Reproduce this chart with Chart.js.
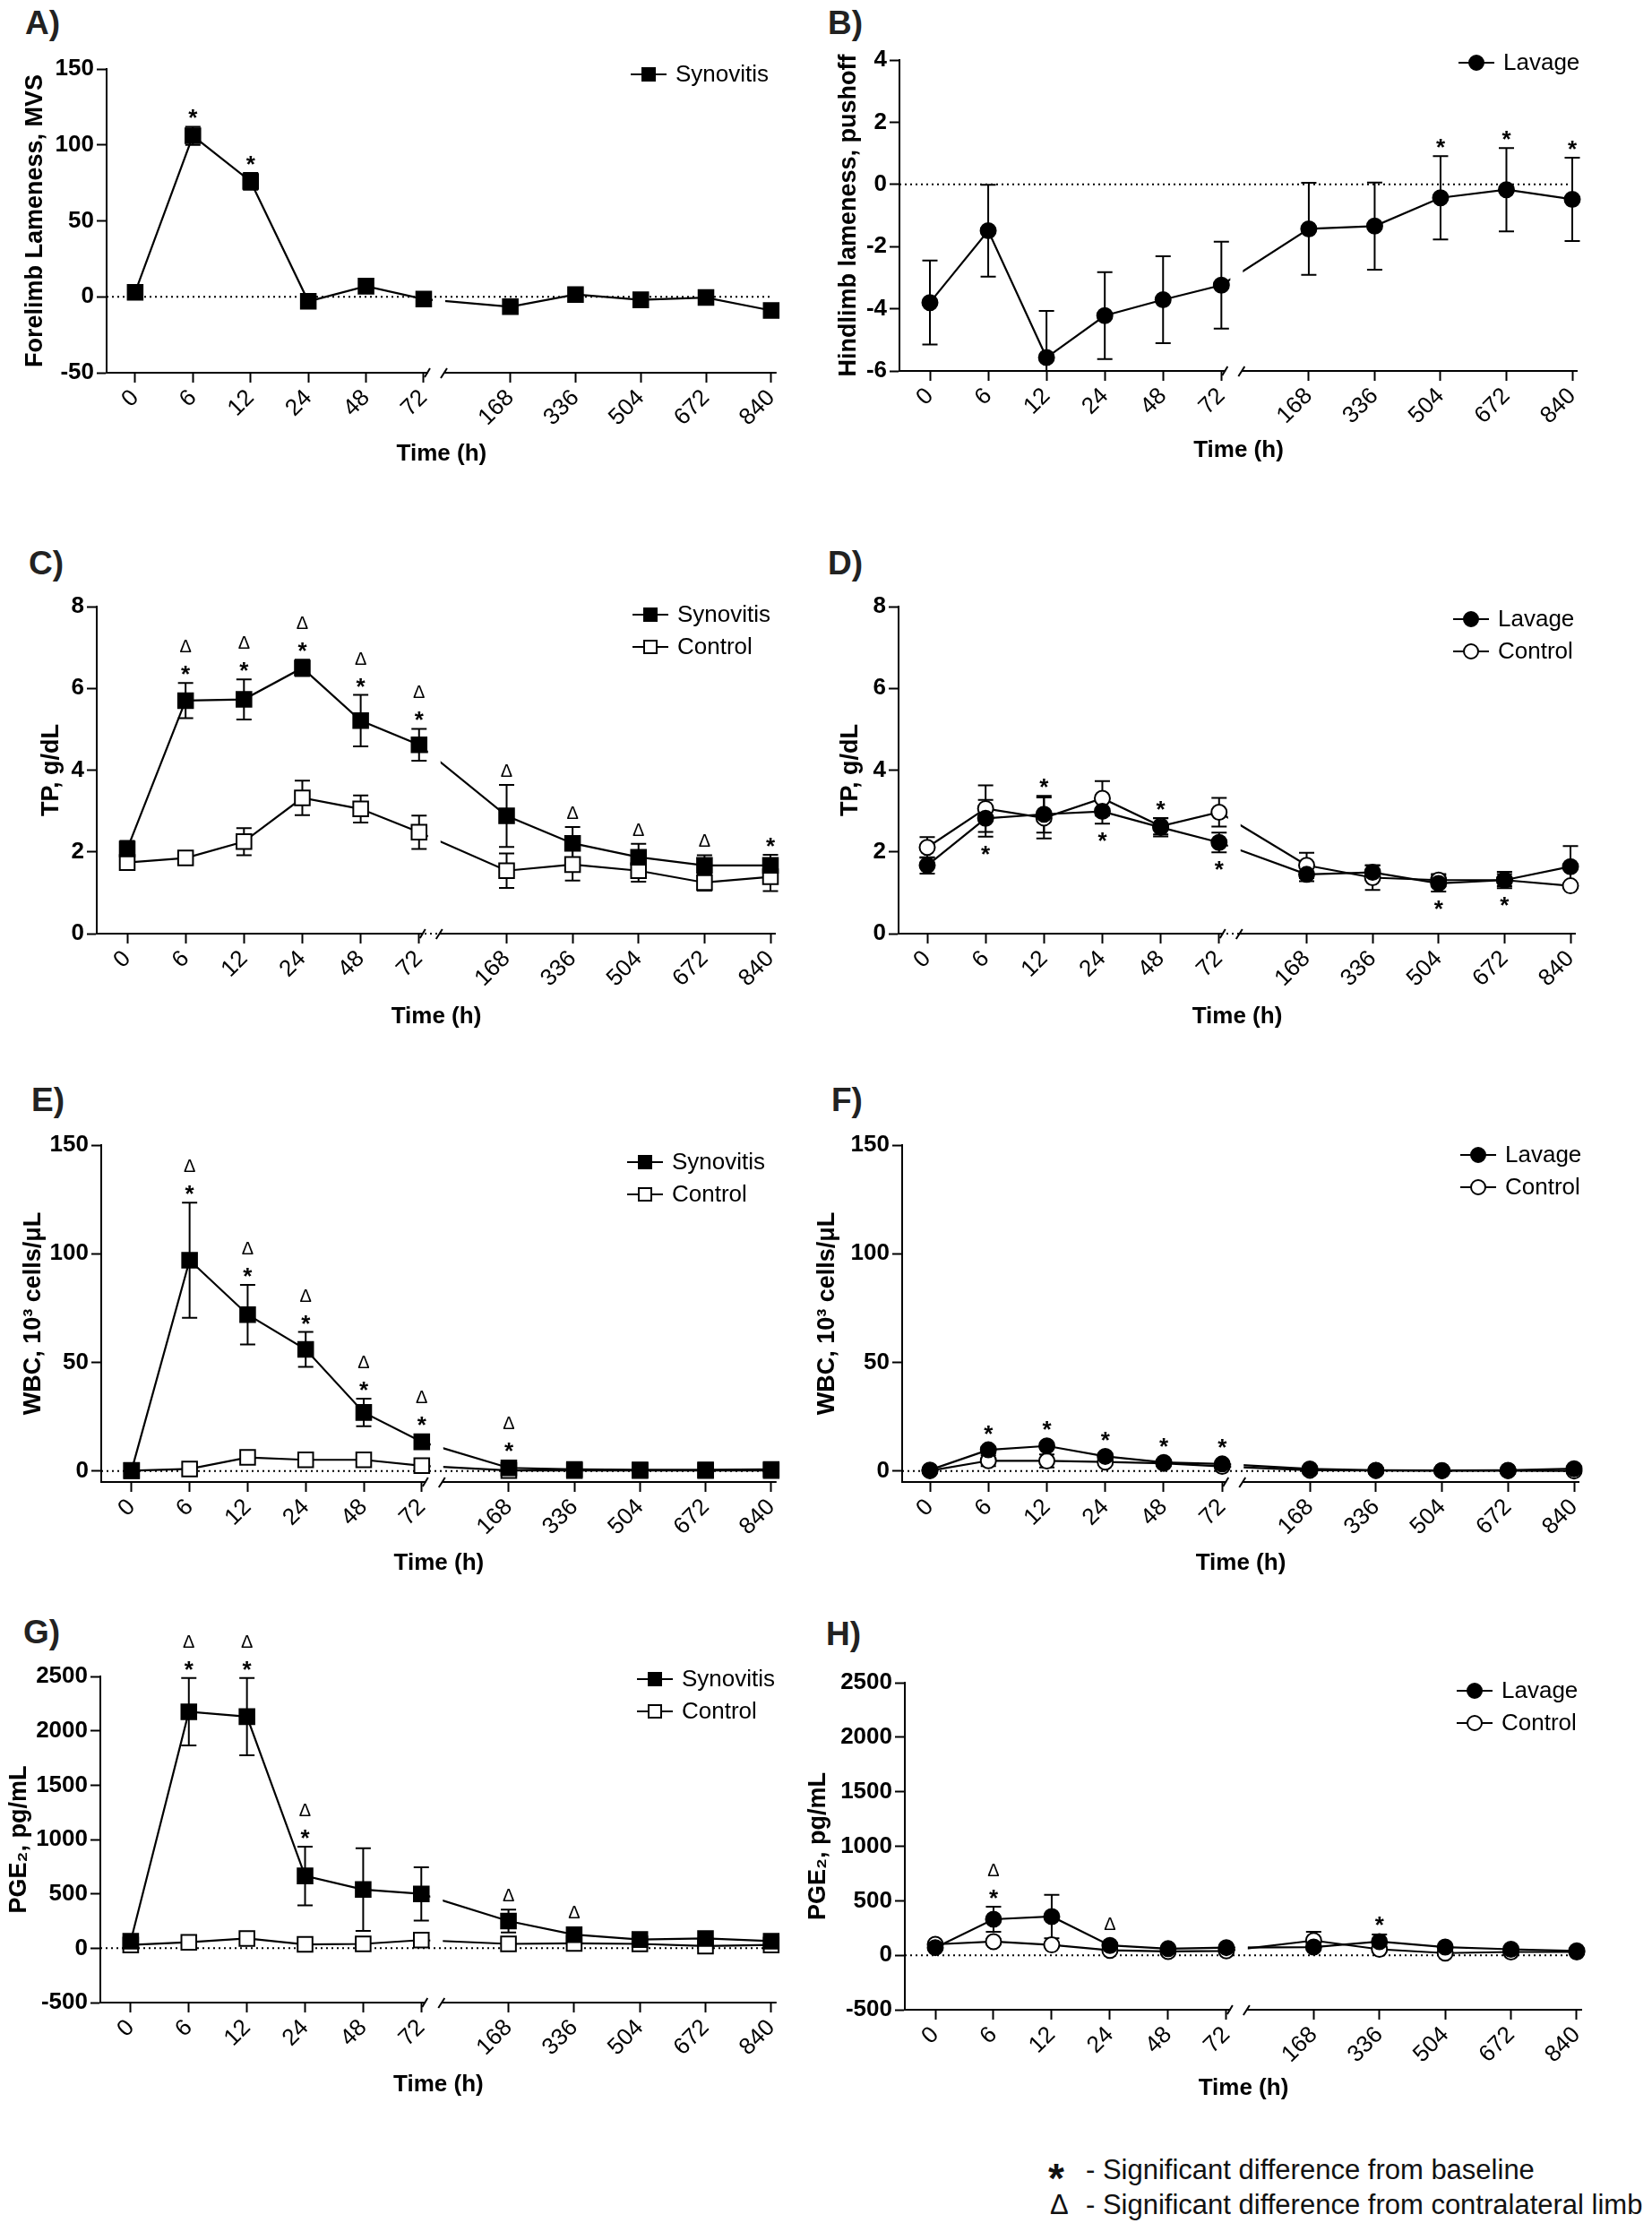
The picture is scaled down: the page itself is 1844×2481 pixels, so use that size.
<!DOCTYPE html>
<html>
<head>
<meta charset="utf-8">
<script src="https://cdn.jsdelivr.net/npm/chart.js@4.4.1/dist/chart.umd.min.js"></script>
<style>
  body { margin: 0; background: #fff; width: 1844px; height: 2481px; position: relative; overflow: hidden;
         font-family: "Liberation Sans", Arial, Helvetica, sans-serif; }
  canvas { position: absolute; }
  .letter { position: absolute; font-weight: bold; font-size: 37px; color: #222; line-height: 1; }
  .note { position: absolute; font-size: 31px; color: #111; line-height: 1; white-space: nowrap; }
</style>
</head>
<body>
<div class="letter" style="left:28px;top:7px">A)</div>
<div class="letter" style="left:924px;top:7px">B)</div>
<div class="letter" style="left:32px;top:610px">C)</div>
<div class="letter" style="left:924px;top:610px">D)</div>
<div class="letter" style="left:35px;top:1209px">E)</div>
<div class="letter" style="left:928px;top:1209px">F)</div>
<div class="letter" style="left:26px;top:1803px">G)</div>
<div class="letter" style="left:922px;top:1805px">H)</div>

<div class="note" style="left:1170px;top:2408px;font-weight:bold;font-size:46px">*</div>
<div class="note" style="left:1212px;top:2406px">- Significant difference from baseline</div>
<div class="note" style="left:1172px;top:2445px">Δ</div>
<div class="note" style="left:1212px;top:2445px">- Significant difference from contralateral limb</div>

<script>
const TIMES = ["0", "6", "12", "24", "48", "72", "168", "336", "504", "672", "840"];
// where each time sits on the broken axis (first-segment step = 1)
const XPOS = [0, 1, 2, 3, 4, 5, 6.5, 7.63, 8.76, 9.89, 11.02];
const BREAK_IDX = 5;

// A) forelimb lameness
const synLame = [3, 106, 76, -3, 7, -1.5, -6.5, 1.5, -2, -0.5, -9];
const synLameSem = [2, 6, 5.5, 2, 2, 2, 2.5, 2.5, 2.5, 2, 2.5];
const sigA = ["", "*", "*", "", "", "", "", "", "", "", ""];

// B) hindlimb lameness
const lavLame = [-3.8, -1.49, -5.57, -4.22, -3.71, -3.24, -1.43, -1.34, -0.43, -0.17, -0.48];
const lavLameSem = [1.35, 1.48, 1.5, 1.4, 1.4, 1.4, 1.48, 1.4, 1.34, 1.34, 1.34];
const sigB = ["", "", "", "", "", "", "", "", "*", "*", "*"];

// C) TP synovitis
const synTP = [2.07, 5.7, 5.73, 6.5, 5.21, 4.62, 2.88, 2.21, 1.87, 1.67, 1.67];
const synTPSem = [0.2, 0.43, 0.49, 0.2, 0.63, 0.39, 0.76, 0.4, 0.33, 0.25, 0.26];
const ctlTPc = [1.74, 1.85, 2.25, 3.32, 3.05, 2.48, 1.54, 1.69, 1.54, 1.25, 1.39];
const ctlTPcSem = [0.12, 0.1, 0.33, 0.42, 0.33, 0.41, 0.42, 0.39, 0.27, 0.2, 0.35];
const sigC = ["", "*Δ", "*Δ", "*Δ", "*Δ", "*Δ", "Δ", "Δ", "Δ", "Δ", "*"];

// D) TP lavage
const lavTP = [1.67, 2.82, 2.92, 2.99, 2.6, 2.23, 1.45, 1.5, 1.23, 1.31, 1.64];
const lavTPSem = [0.2, 0.45, 0.45, 0.3, 0.22, 0.24, 0.17, 0.17, 0.2, 0.2, 0.5];
const ctlTPd = [2.11, 3.06, 2.83, 3.31, 2.63, 2.97, 1.67, 1.37, 1.31, 1.31, 1.17];
const ctlTPdSem = [0.25, 0.57, 0.5, 0.42, 0.2, 0.35, 0.31, 0.3, 0.15, 0.15, 0.05];
const sigD = ["", "", "*", "", "*", "", "", "", "", "", ""];
const sigDbelow = ["", "*", "", "*", "", "*", "", "", "*", "*", ""];

// E) WBC synovitis
const synWBC = [0.3, 97, 72, 56, 27, 13.5, 1.5, 0.8, 0.6, 0.6, 0.8];
const synWBCSem = [0.3, 26.5, 13.7, 8, 6.3, 2, 0.8, 0.3, 0.2, 0.2, 0.2];
const ctlWBCe = [0.2, 1, 6.3, 5.2, 5.2, 2.5, 0.3, 0.3, 0.3, 0.3, 0.3];
const ctlWBCeSem = [0.1, 0.5, 1.2, 1, 1, 0.8, 0.2, 0.1, 0.1, 0.1, 0.1];
const sigE = ["", "*Δ", "*Δ", "*Δ", "*Δ", "*Δ", "*Δ", "", "", "", ""];

// F) WBC lavage
const lavWBC = [0.5, 9.8, 11.6, 6.8, 4, 3.3, 1, 0.4, 0.3, 0.4, 1.1];
const lavWBCSem = [0.3, 1.5, 1.5, 1.5, 1, 1, 0.3, 0.2, 0.2, 0.2, 0.3];
const ctlWBCf = [0.2, 4.8, 4.7, 4.2, 3.6, 2.2, 0.4, 0.3, 0.2, 0.2, 0.1];
const ctlWBCfSem = [0.1, 2.5, 3, 1.5, 0.8, 0.5, 0.2, 0.1, 0.1, 0.1, 0.1];
const sigF = ["", "*", "*", "*", "*", "*", "", "", "", "", ""];

// G) PGE2 synovitis
const synPGE = [65, 2175, 2130, 665, 540, 500, 250, 125, 80, 90, 65];
const synPGESem = [20, 310, 355, 270, 380, 245, 105, 40, 20, 30, 20];
const ctlPGEg = [30, 55, 90, 35, 40, 75, 40, 45, 40, 20, 30];
const ctlPGEgSem = [15, 20, 25, 15, 20, 25, 15, 15, 15, 10, 10];
const sigG = ["", "*Δ", "*Δ", "*Δ", "", "", "Δ", "Δ", "", "", ""];

// H) PGE2 lavage
const lavPGE = [70, 330, 355, 90, 60, 70, 75, 125, 75, 55, 40];
const lavPGESem = [15, 115, 200, 20, 15, 15, 15, 65, 15, 15, 10];
const ctlPGEh = [100, 125, 95, 45, 35, 40, 135, 55, 20, 30, 30];
const ctlPGEhSem = [15, 25, 20, 15, 10, 10, 80, 20, 10, 10, 10];
const sigH = ["", "*Δ", "", "Δ", "", "", "", "*", "", "", ""];

const FONT = '"Liberation Sans", Arial, Helvetica, sans-serif';
Chart.defaults.font.family = FONT;
Chart.defaults.color = "#000";

const ROWS = [[0, 560], [590, 575], [1180, 590], [1780, 575]];
const COLS = [[0, 885], [885, 959]];

const syn = (vals, sem) => ({ label: "Synovitis", vals, sem, style: "rect", filled: true });
const lav = (vals, sem) => ({ label: "Lavage", vals, sem, style: "circle", filled: true });
const ctl = (vals, sem, style) => ({ label: "Control", vals, sem, style, filled: false });

const PANELS = [
  { col: 0, row: 0, left: 119, top: 77, bottom: 416, x0: 151, x840: 864, timeY: 507, titleX: 40, leg: [704, 83],
    ymin: -50, ymax: 150, step: 50, title: "Forelimb Lameness, MVS",
    series: [syn(synLame, synLameSem)], above: sigA },
  { col: 1, row: 0, left: 1004, top: 67, bottom: 414, x0: 1038, x840: 1755, timeY: 503, titleX: 948, leg: [1628, 70],
    ymin: -6, ymax: 4, step: 2, title: "Hindlimb lameness, pushoff",
    series: [lav(lavLame, lavLameSem)], above: sigB },
  { col: 0, row: 1, left: 108, top: 677, bottom: 1042, x0: 142, x840: 860, timeY: 1135, titleX: 58, leg: [706, 686],
    ymin: 0, ymax: 8, step: 2, title: "TP, g/dL",
    series: [syn(synTP, synTPSem), ctl(ctlTPc, ctlTPcSem, "rect")], above: sigC },
  { col: 1, row: 1, left: 1003, top: 677, bottom: 1042, x0: 1035, x840: 1753, timeY: 1135, titleX: 950, leg: [1622, 691],
    ymin: 0, ymax: 8, step: 2, title: "TP, g/dL",
    series: [lav(lavTP, lavTPSem), ctl(ctlTPd, ctlTPdSem, "circle")], above: sigD, below: sigDbelow },
  { col: 0, row: 2, left: 113, top: 1278, bottom: 1654, x0: 147, x840: 864, timeY: 1745, titleX: 38, leg: [700, 1297],
    ymin: -5, ymax: 150, step: 50, fixedTicks: [0, 50, 100, 150], title: "WBC, 10³ cells/μL",
    series: [syn(synWBC, synWBCSem), ctl(ctlWBCe, ctlWBCeSem, "rect")], above: sigE },
  { col: 1, row: 2, left: 1007, top: 1278, bottom: 1654, x0: 1038, x840: 1757, timeY: 1745, titleX: 924, leg: [1630, 1289],
    ymin: -5, ymax: 150, step: 50, fixedTicks: [0, 50, 100, 150], title: "WBC, 10³ cells/μL",
    series: [lav(lavWBC, lavWBCSem), ctl(ctlWBCf, ctlWBCfSem, "circle")], above: sigF },
  { col: 0, row: 3, left: 112, top: 1871, bottom: 2235, x0: 146, x840: 863, timeY: 2327, titleX: 22, leg: [711, 1874],
    ymin: -500, ymax: 2500, step: 500, title: "PGE₂, pg/mL",
    series: [syn(synPGE, synPGESem), ctl(ctlPGEg, ctlPGEgSem, "rect")], above: sigG },
  { col: 1, row: 3, left: 1010, top: 1878, bottom: 2243, x0: 1044, x840: 1760, timeY: 2331, titleX: 914, leg: [1626, 1887],
    ymin: -500, ymax: 2500, step: 500, title: "PGE₂, pg/mL",
    series: [lav(lavPGE, lavPGESem), ctl(ctlPGEh, ctlPGEhSem, "circle")], above: sigH },
];

const R_RECT = 11.7, R_CIRC = 8.5;

function drawMarker(ctx, style, filled, x, y, size) {
  ctx.beginPath();
  if (style === "rect") ctx.rect(x - size, y - size, 2 * size, 2 * size);
  else ctx.arc(x, y, size, 0, Math.PI * 2);
  ctx.fillStyle = filled ? "#000" : "#fff";
  ctx.fill();
  ctx.lineWidth = 2;
  ctx.strokeStyle = "#000";
  ctx.stroke();
}

function drawStar(ctx, x, cy) {
  ctx.font = "bold 26px " + FONT;
  ctx.textBaseline = "alphabetic";
  ctx.fillText("*", x, cy + 15);
}

function drawDelta(ctx, x, cy) {
  ctx.font = "20px " + FONT;
  ctx.textBaseline = "alphabetic";
  ctx.fillText("Δ", x, cy + 7);
}

const decor = {
  id: "decor",
  beforeDatasetsDraw(chart, args, P) {
    const { ctx, chartArea: a } = chart;
    const xs = chart.scales.x, ys = chart.scales.y;
    // dotted zero line
    ctx.save();
    ctx.strokeStyle = "#000";
    ctx.lineWidth = 2;
    ctx.setLineDash([2, 4]);
    const y0 = ys.getPixelForValue(0);
    ctx.beginPath();
    ctx.moveTo(a.left, y0);
    ctx.lineTo(xs.getPixelForValue(XPOS[XPOS.length - 1]), y0);
    ctx.stroke();
    ctx.restore();

    // error bars, behind the markers
    ctx.save();
    ctx.beginPath();
    ctx.rect(a.left, a.top - 2, a.right - a.left + 20, a.bottom - a.top + 2);
    ctx.clip();
    ctx.strokeStyle = "#000";
    ctx.lineWidth = 2;
    chart.data.datasets.forEach((ds, di) => {
      const meta = chart.getDatasetMeta(di);
      ds.sem.forEach((e, j) => {
        const x = meta.data[j].x, v = ds.data[j].y;
        const t = ys.getPixelForValue(v + e), b = ys.getPixelForValue(v - e);
        ctx.beginPath();
        ctx.moveTo(x, t); ctx.lineTo(x, b);
        ctx.moveTo(x - 8.5, t); ctx.lineTo(x + 8.5, t);
        ctx.moveTo(x - 8.5, b); ctx.lineTo(x + 8.5, b);
        ctx.stroke();
      });
    });
    ctx.restore();
  },
  beforeDatasetDraw(chart) {
    // hide the connecting line inside the axis break
    const { ctx } = chart;
    const xb = chart.scales.x.getPixelForValue(XPOS[BREAK_IDX]);
    ctx.save();
    ctx.beginPath();
    ctx.rect(0, 0, xb + 10, chart.height);
    ctx.rect(xb + 24, 0, chart.width, chart.height);
    ctx.clip();
  },
  afterDatasetDraw(chart) {
    chart.ctx.restore();
  },
  afterDatasetsDraw(chart, args, P) {
    const { ctx } = chart;
    const ys = chart.scales.y;
    const ref = chart.data.datasets[0];
    const meta = chart.getDatasetMeta(0);
    const R = ref.pointStyle === "rect" ? 9 : R_CIRC;
    ctx.save();
    ctx.fillStyle = "#000";
    ctx.textAlign = "center";
    (P.above || []).forEach((s, j) => {
      if (!s) return;
      const x = meta.data[j].x, v = ref.data[j].y, e = ref.sem[j];
      const anchor = Math.min(ys.getPixelForValue(v + e), ys.getPixelForValue(v) - R);
      let y = anchor - 16;
      if (s.includes("*")) { drawStar(ctx, x, y); y -= 25; }
      if (s.includes("Δ")) drawDelta(ctx, x, y);
    });
    (P.below || []).forEach((s, j) => {
      if (!s) return;
      const x = meta.data[j].x, v = ref.data[j].y, e = ref.sem[j];
      const anchor = Math.max(ys.getPixelForValue(v - e), ys.getPixelForValue(v) + R);
      drawStar(ctx, x, anchor + 13);
    });
    ctx.restore();
  },
  afterDraw(chart, args, P) {
    const { ctx, chartArea: a } = chart;
    const xs = chart.scales.x;
    const xb = xs.getPixelForValue(XPOS[BREAK_IDX]);
    const y = a.bottom;
    ctx.save();
    ctx.strokeStyle = "#000";
    ctx.lineWidth = 2;
    ctx.beginPath();
    ctx.moveTo(a.left - 1, y); ctx.lineTo(xb + 5, y);
    ctx.moveTo(xb + 23, y); ctx.lineTo(a.right, y);
    ctx.moveTo(xb + 1, y + 5); ctx.lineTo(xb + 7, y - 5);
    ctx.moveTo(xb + 19, y + 6); ctx.lineTo(xb + 26, y - 5);
    ctx.stroke();

    // legend
    P.series.forEach((s, k) => {
      const lx = P.legX, ly = P.legY + k * 36;
      ctx.beginPath();
      ctx.moveTo(lx, ly); ctx.lineTo(lx + 40, ly);
      ctx.lineWidth = 2;
      ctx.stroke();
      drawMarker(ctx, s.style, s.filled, lx + 20, ly, s.style === "rect" ? 7 : 8);
      ctx.fillStyle = "#000";
      ctx.font = "26px " + FONT;
      ctx.textAlign = "left";
      ctx.textBaseline = "middle";
      ctx.fillText(s.label, lx + 50, ly + 1);
    });
    ctx.restore();
  }
};

PANELS.forEach(P => {
  const [rowTop, rowH] = ROWS[P.row];
  const [colLeft, colW] = COLS[P.col];
  const cv = document.createElement("canvas");
  cv.width = colW; cv.height = rowH;
  cv.style.left = colLeft + "px"; cv.style.top = rowTop + "px";
  cv.style.width = colW + "px"; cv.style.height = rowH + "px";
  document.body.appendChild(cv);

  const unit = (P.x840 - P.x0) / XPOS[XPOS.length - 1];
  const xmin = (P.left - P.x0) / unit;
  const xmax = XPOS[XPOS.length - 1] + 6 / unit;

  const datasets = P.series.map(s => ({
    label: s.label,
    data: XPOS.map((x, i) => ({ x, y: s.vals[i] })),
    sem: s.sem,
    showLine: true,
    borderColor: "#000",
    borderWidth: 2.2,
    tension: 0,
    pointStyle: s.style,
    pointRadius: s.style === "rect" ? R_RECT : R_CIRC,
    pointBackgroundColor: s.filled ? "#000" : "#fff",
    pointBorderColor: "#000",
    pointBorderWidth: 2,
    clip: false,
  }));

  new Chart(cv, {
    type: "scatter",
    data: { datasets },
    options: {
      responsive: false,
      animation: false,
      devicePixelRatio: 1,
      events: [],
      layout: { padding: { left: 0, top: P.top - rowTop, right: colLeft + colW - (P.x840 + 6), bottom: 0 } },
      plugins: {
        legend: { display: false },
        tooltip: { enabled: false },
        decor: {
          above: P.above, below: P.below, series: P.series,
          legX: P.leg[0] - colLeft, legY: P.leg[1] - rowTop,
        },
      },
      scales: {
        x: {
          type: "linear", min: xmin, max: xmax,
          afterBuildTicks: s => { s.ticks = XPOS.map(v => ({ value: v })); },
          afterFit: s => { s.height = rowTop + rowH - P.bottom; },
          grid: { drawOnChartArea: false, drawTicks: true, tickLength: 11, tickWidth: 2, tickColor: "#000" },
          border: { display: false },
          ticks: {
            autoSkip: false, minRotation: 45, maxRotation: 45, padding: 2, color: "#000",
            font: { size: 26 },
            callback: (v, i) => TIMES[i],
          },
          title: {
            display: true, text: "Time (h)", color: "#000",
            font: { size: 26, weight: "bold" },
            padding: { top: 0, bottom: rowTop + rowH - P.timeY - 15.6 },
          },
        },
        y: {
          min: P.ymin, max: P.ymax,
          afterBuildTicks: s => { if (P.fixedTicks) s.ticks = P.fixedTicks.map(v => ({ value: v })); },
          afterFit: s => { s.width = P.left - colLeft; },
          grid: { drawOnChartArea: false, drawTicks: true, tickLength: 11, tickWidth: 2, tickColor: "#000" },
          border: { display: true, width: 2, color: "#000" },
          ticks: {
            stepSize: P.step, padding: 3, color: "#000", font: { size: 26, weight: "bold" },
            callback: v => String(v),
          },
          title: {
            display: true, text: P.title, color: "#000",
            font: { size: 27, weight: "bold" },
            padding: { top: P.titleX - colLeft - 16.2, bottom: 0 },
          },
        },
      },
    },
    plugins: [decor],
  });
});
</script>
</body>
</html>
